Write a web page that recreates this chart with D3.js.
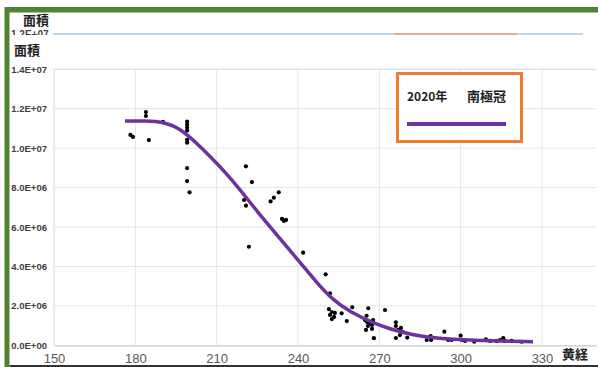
<!DOCTYPE html>
<html>
<head>
<meta charset="utf-8">
<script src="https://cdn.jsdelivr.net/npm/d3@7"></script>
<style>
  html, body { margin: 0; padding: 0; background: #fff; }
  svg { display: block; }
</style>
</head>
<body>
<svg id="chart" width="598" height="367"></svg>
<script>
// Ecliptic longitude ticks and area ticks (area in units of 1e6)
const xTicks = [150, 180, 210, 240, 270, 300, 330];
const yTicks = [0, 2, 4, 6, 8, 10, 12, 14];

// Observed south polar cap area vs. ecliptic longitude (area ×1e6)
const obsLon = [178.2, 179.1, 183.9, 183.9, 185.0, 190.2,
  199.1, 199.1, 199.1, 199.1, 199.1, 199.1, 199.1, 199.1, 200.0,
  220.8, 223.0, 220.1, 220.8, 221.9, 229.9, 231.1, 232.9,
  234.1, 234.8, 235.6, 241.9, 250.2, 251.8,
  251.4, 252.5, 251.8, 253.3, 252.5, 253.6, 256.1, 258.0, 260.0,
  265.9, 265.3, 264.7, 265.5, 266.6, 267.3, 265.8, 265.1, 267.3, 267.7,
  268.0, 272.1, 276.1, 276.1, 276.9, 278.0, 278.7, 276.1, 277.6,
  280.3, 287.5, 288.9, 289.1, 294.0, 295.4, 296.7, 300.0, 300.5, 301.6,
  305.0, 309.3, 310.8, 313.3, 315.7, 316.3, 314.5, 318.8, 322.5];
const obsArea = [10.67, 10.57, 11.83, 11.63, 10.41, 11.33,
  11.35, 11.2, 11.05, 10.9, 10.42, 10.28, 8.99, 8.33, 7.76,
  9.08, 8.28, 7.37, 7.08, 5.00, 7.30, 7.49, 7.76,
  6.41, 6.31, 6.36, 4.70, 3.60, 2.64,
  1.84, 1.69, 1.54, 1.44, 1.33, 1.64, 1.62, 1.23, 1.93,
  1.88, 1.50, 1.28, 1.18, 1.13, 1.03, 0.98, 0.78, 0.83, 1.28,
  0.36, 1.79, 1.17, 0.98, 0.78, 0.88, 0.67, 0.37, 0.52,
  0.39, 0.27, 0.47, 0.27, 0.69, 0.27, 0.27, 0.49, 0.27, 0.22,
  0.18, 0.30, 0.22, 0.22, 0.36, 0.22, 0.27, 0.22, 0.18];

// Smoothed fit curve for the 2020 south polar cap
const fitLon = [176.2, 183.6, 190.2, 196.5, 203.5, 216.0, 223.4,
  240.7, 247.0, 252.9, 259.2, 267.7, 273.9, 282.4, 292.4, 307.1, 326.7];
const fitArea = [11.38, 11.38, 11.33, 11.01, 10.16, 8.39, 7.02,
  4.23, 3.16, 2.30, 1.69, 1.13, 0.83, 0.52, 0.32, 0.24, 0.18];

const seriesYear = "2020年";
const seriesName = "南極冠";
const yTitle = "面積";
const xTitle = "黄経";

const svg = d3.select("#chart");
const W = 598, H = 367;
const purple = "#7030a0", orange = "#ed7d31", green = "#548235";
const cjk = "'Noto Sans CJK JP', 'Noto Sans', sans-serif";
const latin = "'Liberation Sans', Arial, sans-serif";

function sci(v) {
  const [m, e] = (v * 1e6).toExponential(1).split("e");
  const n = Math.abs(+e);
  return m + "E" + (e[0] === "-" ? "-" : "+") + String(n).padStart(2, "0");
}

svg.append("rect").attr("width", W).attr("height", H).attr("fill", "#fff");

// Frame of the panel behind (only its top edge shows)
svg.append("text").attr("x", 23).attr("y", 25)
  .attr("font-family", cjk).attr("font-weight", "bold").attr("font-size", 13)
  .attr("fill", "#222").text(yTitle);
svg.append("text").attr("x", 11).attr("y", 38)
  .attr("font-family", latin).attr("font-weight", "bold").attr("font-size", 10)
  .attr("fill", "#404040").text(sci(12));
svg.append("rect").attr("x", 0).attr("y", 35).attr("width", W).attr("height", H - 35).attr("fill", "#fff");
svg.append("line").attr("x1", 53).attr("x2", 583).attr("y1", 34).attr("y2", 34)
  .attr("stroke", "#a9c8ea").attr("stroke-width", 1.5);
svg.append("line").attr("x1", 394).attr("x2", 517).attr("y1", 34).attr("y2", 34)
  .attr("stroke", "#e8a27a").attr("stroke-width", 1.5);

// Green frame
svg.append("rect").attr("x", 5).attr("y", 7).attr("width", W - 5).attr("height", 5.5).attr("fill", green);
svg.append("rect").attr("x", 4.5).attr("y", 7).attr("width", 5).attr("height", H - 7).attr("fill", green);
svg.append("line").attr("x1", 9.5).attr("x2", W).attr("y1", 366).attr("y2", 366)
  .attr("stroke", "#333").attr("stroke-width", 2);

// Scales
const x = d3.scaleLinear().domain([150, 350]).range([54, 596.2]);
const y = d3.scaleLinear().domain([0, 14]).range([345.3, 69.3]);

// Gridlines
const grid = svg.append("g");
grid.selectAll("line.v").data(xTicks.slice(1)).join("line")
  .attr("x1", d => x(d)).attr("x2", d => x(d))
  .attr("y1", y(14)).attr("y2", y(0))
  .attr("stroke", "#e3e3e3").attr("stroke-width", 1);
grid.selectAll("line.h").data(yTicks.slice(1, -1)).join("line")
  .attr("x1", x(150)).attr("x2", x(350))
  .attr("y1", d => y(d)).attr("y2", d => y(d))
  .attr("stroke", "#e3e3e3").attr("stroke-width", 1);
grid.append("line").attr("x1", x(150)).attr("x2", x(350))
  .attr("y1", y(14)).attr("y2", y(14)).attr("stroke", "#c5d9ef").attr("stroke-width", 1);
grid.append("line").attr("x1", x(150)).attr("x2", x(150))
  .attr("y1", y(14)).attr("y2", y(0)).attr("stroke", "#d0dbe8").attr("stroke-width", 1);

// Axes
const xAxis = svg.append("g").attr("transform", `translate(0,${y(0)})`)
  .call(d3.axisBottom(x).tickValues(xTicks).tickSize(0).tickPadding(8).tickFormat(d3.format("d")));
xAxis.select(".domain").attr("stroke", "#c8c8c8").attr("stroke-width", 1.2);
xAxis.selectAll("text").attr("font-family", latin).attr("font-size", 13).attr("fill", "#595959");

const yAxis = svg.append("g").attr("transform", `translate(${x(150)},0)`)
  .call(d3.axisLeft(y).tickValues(yTicks).tickSize(0).tickPadding(7).tickFormat(sci));
yAxis.select(".domain").remove();
yAxis.selectAll("text").attr("font-family", latin).attr("font-weight", "bold")
  .attr("font-size", 9.5).attr("fill", "#404040");

// Axis titles
svg.append("text").attr("x", 14).attr("y", 55)
  .attr("font-family", cjk).attr("font-weight", "bold").attr("font-size", 13)
  .attr("fill", "#222").text(yTitle);
svg.append("text").attr("x", 562).attr("y", 359)
  .attr("font-family", cjk).attr("font-weight", "bold").attr("font-size", 13)
  .attr("fill", "#222").text(xTitle);

// Observations
const obs = obsLon.map((l, i) => ({ l, a: obsArea[i] }));
svg.append("g").selectAll("circle").data(obs).join("circle")
  .attr("cx", d => x(d.l)).attr("cy", d => y(d.a)).attr("r", 2.1)
  .attr("fill", "#000");

// Fit curve
const fit = fitLon.map((l, i) => ({ l, a: fitArea[i] }));
svg.append("path").datum(fit)
  .attr("d", d3.line().x(d => x(d.l)).y(d => y(d.a)).curve(d3.curveBasis))
  .attr("fill", "none").attr("stroke", purple).attr("stroke-width", 3.5)
  .attr("stroke-linecap", "butt");

// Legend
const lg = svg.append("g");
lg.append("rect").attr("x", 397.5).attr("y", 73.5).attr("width", 124).attr("height", 68)
  .attr("fill", "#fff").attr("stroke", orange).attr("stroke-width", 3);
lg.append("text").attr("x", 407).attr("y", 101)
  .attr("font-family", cjk).attr("font-weight", "bold").attr("font-size", 12)
  .attr("fill", "#222").text(seriesYear);
lg.append("text").attr("x", 467).attr("y", 101)
  .attr("font-family", cjk).attr("font-weight", "bold").attr("font-size", 13)
  .attr("fill", "#222").text(seriesName);
lg.append("line").attr("x1", 407).attr("x2", 506).attr("y1", 124).attr("y2", 124)
  .attr("stroke", purple).attr("stroke-width", 4);
</script>
</body>
</html>
